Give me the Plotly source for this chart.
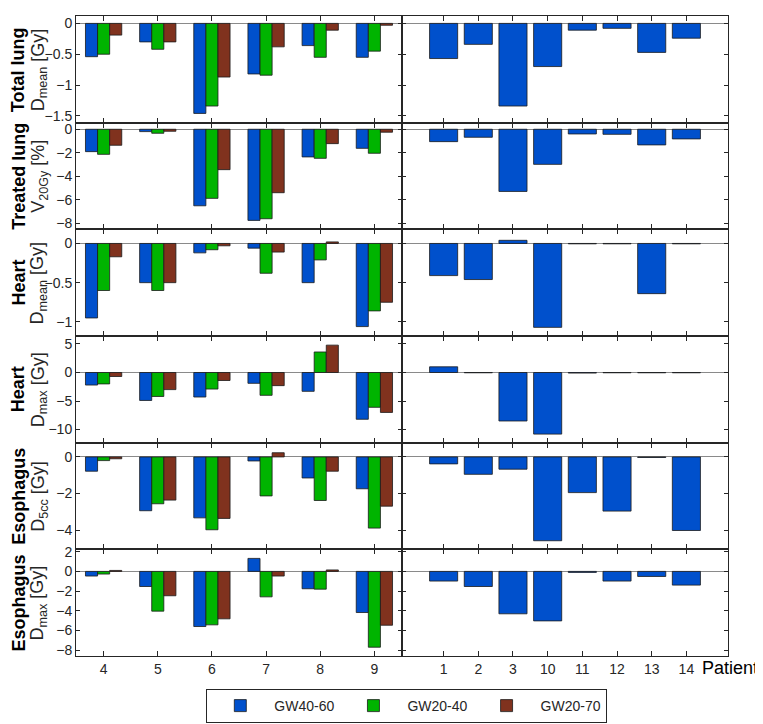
import plotly.graph_objects as go
from plotly.subplots import make_subplots

# ---------------- data ----------------
patients_left = ["4", "5", "6", "7", "8", "9"]
patients_right = ["1", "2", "3", "10", "11", "12", "13", "14"]
series_names = ["GW40-60", "GW20-40", "GW20-70"]
series_colors = ["#0050CC", "#00B400", "#80321E"]

# Total lung D_mean [Gy]
tl_dmean_4060 = [-0.54, -0.30, -1.46, -0.82, -0.36, -0.55]
tl_dmean_2040 = [-0.50, -0.42, -1.34, -0.84, -0.55, -0.45]
tl_dmean_2070 = [-0.19, -0.30, -0.87, -0.38, -0.11, -0.03]
tl_dmean_right = [-0.57, -0.34, -1.34, -0.70, -0.11, -0.08, -0.47, -0.24]

# Treated lung V20Gy [%]
trl_v20_4060 = [-1.90, -0.20, -6.50, -7.74, -2.35, -1.62]
trl_v20_2040 = [-2.13, -0.34, -5.87, -7.60, -2.47, -2.04]
trl_v20_2070 = [-1.36, -0.17, -3.43, -5.39, -1.22, -0.25]
trl_v20_right = [-1.05, -0.68, -5.28, -2.98, -0.40, -0.43, -1.33, -0.82]

# Heart D_mean [Gy]
h_dmean_4060 = [-0.95, -0.50, -0.12, -0.06, -0.50, -1.06]
h_dmean_2040 = [-0.60, -0.60, -0.08, -0.38, -0.21, -0.86]
h_dmean_2070 = [-0.17, -0.50, -0.03, -0.11, 0.02, -0.75]
h_dmean_right = [-0.41, -0.46, 0.04, -1.07, -0.005, -0.005, -0.64, -0.005]

# Heart D_max [Gy]
h_dmax_4060 = [-2.2, -4.9, -4.3, -1.9, -3.3, -8.2]
h_dmax_2040 = [-2.0, -4.2, -2.9, -4.0, 3.6, -6.1]
h_dmax_2070 = [-0.7, -3.0, -1.4, -2.3, 4.8, -7.0]
h_dmax_right = [1.0, -0.05, -8.5, -10.8, -0.1, -0.05, -0.05, -0.05]

# Esophagus D_5cc [Gy]
e_d5cc_4060 = [-0.78, -2.94, -3.33, -0.22, -1.15, -1.74]
e_d5cc_2040 = [-0.20, -2.56, -3.98, -2.13, -2.38, -3.89]
e_d5cc_2070 = [-0.10, -2.36, -3.36, 0.23, -0.78, -2.69]
e_d5cc_right = [-0.38, -0.95, -0.67, -4.58, -1.95, -2.96, -0.03, -4.02]

# Esophagus D_max [Gy]
e_dmax_4060 = [-0.47, -1.53, -5.59, 1.32, -1.76, -4.17]
e_dmax_2040 = [-0.27, -4.03, -5.42, -2.58, -1.80, -7.69]
e_dmax_2070 = [0.10, -2.47, -4.81, -0.47, 0.15, -5.46]
e_dmax_right = [-0.98, -1.53, -4.30, -5.02, -0.10, -0.98, -0.51, -1.39]

row_organs = ["Total lung", "Treated lung", "Heart", "Heart", "Esophagus", "Esophagus"]
row_metrics = ["D<sub>mean</sub> [Gy]", "V<sub>20Gy</sub> [%]", "D<sub>mean</sub> [Gy]",
               "D<sub>max</sub> [Gy]", "D<sub>5cc</sub> [Gy]", "D<sub>max</sub> [Gy]"]
row_ranges = [[-1.61, 0.12], [-8.5, 0.56], [-1.18, 0.18],
              [-12.3, 6.4], [-5.05, 0.78], [-8.58, 2.24]]
row_ticks = [[0, -0.5, -1, -1.5], [0, -2, -4, -6, -8], [0, -0.5, -1],
             [5, 0, -5, -10], [0, -2, -4], [2, 0, -2, -4, -6, -8]]

left_data = [
    [tl_dmean_4060, tl_dmean_2040, tl_dmean_2070],
    [trl_v20_4060, trl_v20_2040, trl_v20_2070],
    [h_dmean_4060, h_dmean_2040, h_dmean_2070],
    [h_dmax_4060, h_dmax_2040, h_dmax_2070],
    [e_d5cc_4060, e_d5cc_2040, e_d5cc_2070],
    [e_dmax_4060, e_dmax_2040, e_dmax_2070],
]
right_data = [tl_dmean_right, trl_v20_right, h_dmean_right,
              h_dmax_right, e_d5cc_right, e_dmax_right]

# ---------------- figure ----------------
FONT = "Liberation Sans, Arial, sans-serif"
AX = "#262626"

fig = make_subplots(rows=6, cols=2, horizontal_spacing=0, vertical_spacing=0)

for r in range(6):
    for s in range(3):
        fig.add_trace(go.Bar(
            x=patients_left, y=left_data[r][s], name=series_names[s],
            marker=dict(color=series_colors[s], line=dict(color="#1a1a1a", width=0.8)),
            showlegend=(r == 0), legendgroup=series_names[s],
        ), row=r + 1, col=1)
    fig.add_trace(go.Bar(
        x=patients_right, y=right_data[r], name=series_names[0],
        marker=dict(color=series_colors[0], line=dict(color="#1a1a1a", width=0.8)),
        width=0.81, offset=-0.405, showlegend=False, legendgroup=series_names[0],
    ), row=r + 1, col=2)

    for c in (1, 2):
        fig.update_xaxes(
            type="category", range=[-0.51, 5.51] if c == 1 else [-1.2, 8.2],
            showline=True, mirror="ticks", linecolor=AX, linewidth=1,
            ticks="inside", ticklen=5, tickcolor=AX, showgrid=False, zeroline=False,
            showticklabels=(r == 5), tickfont=dict(family=FONT, size=14, color=AX),
            row=r + 1, col=c)
        fig.update_yaxes(
            range=row_ranges[r], tickvals=row_ticks[r],
            showline=True, mirror="ticks", linecolor=AX, linewidth=1,
            ticks="inside", ticklen=4, tickcolor=AX, showgrid=False,
            zeroline=True, zerolinecolor="#8a8a8a", zerolinewidth=1,
            showticklabels=(c == 1), tickfont=dict(family=FONT, size=14, color=AX),
            row=r + 1, col=c)

    yc = 1 - (r + 0.5) / 6
    fig.add_annotation(xref="paper", yref="paper", x=-0.0877, y=yc,
                       text="<b>" + row_organs[r] + "</b>", textangle=-90,
                       showarrow=False, xanchor="center", yanchor="middle",
                       font=dict(family=FONT, size=18, color="black"))
    fig.add_annotation(xref="paper", yref="paper", x=-0.057, y=yc,
                       text=row_metrics[r], textangle=-90,
                       showarrow=False, xanchor="center", yanchor="middle",
                       font=dict(family=FONT, size=18, color=AX))

fig.add_annotation(xref="paper", yref="paper", x=0.9566, y=-0.0185,
                   text="Patient", showarrow=False, xanchor="left", yanchor="middle",
                   font=dict(family=FONT, size=18, color="black"))

# page body has an 8px default margin, so the figure is 8px smaller and
# the left/top plot margins are reduced accordingly
fig.update_layout(
    width=755, height=716,
    margin=dict(l=68, r=35, t=8, b=68, autoexpand=False),
    paper_bgcolor="white", plot_bgcolor="white",
    barmode="group", bargap=0.33, bargroupgap=0,
    font=dict(family=FONT, size=14, color=AX),
    legend=dict(orientation="h", x=0.5074, xanchor="center", y=-0.0516, yanchor="top",
                bordercolor=AX, borderwidth=1, bgcolor="white",
                font=dict(family=FONT, size=14, color=AX), itemwidth=58,
                tracegroupgap=0),
)

fig.write_html("out.html")
